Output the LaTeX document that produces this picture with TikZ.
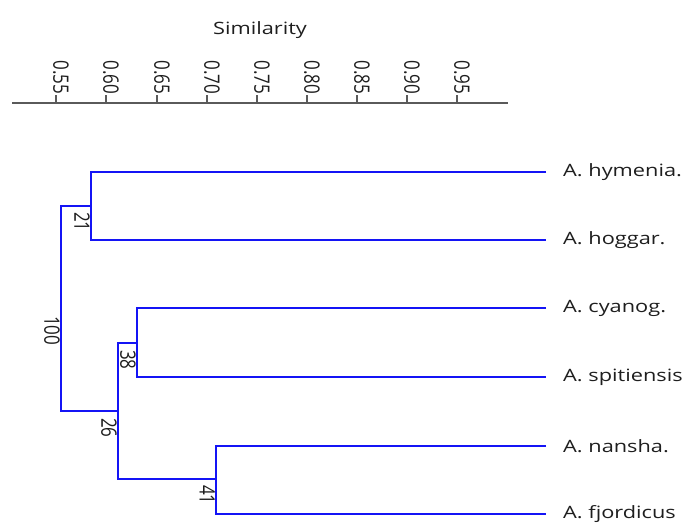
\documentclass[tikz,border=0pt]{standalone}
\usepackage{fontspec}
\setmainfont{Open Sans}
\newcommand{\hst}[1]{\scalebox{1.28}[1]{#1}}
\newcommand{\vst}[1]{\scalebox{1}[1.25]{#1}}
\begin{document}
\begin{tikzpicture}[x=1pt,y=-1pt,
  br/.style={draw={rgb,255:red,20;green,20;blue,245}, line width=1.6pt},
  ax/.style={draw={rgb,255:red,90;green,90;blue,90}, line width=2pt},
  txt/.style={text={rgb,255:red,30;green,30;blue,30}, font=\fontsize{17}{20}\selectfont, inner sep=0pt},
  rlab/.style={txt, rotate=-90, anchor=north west},
  tlab/.style={txt, rotate=-90, anchor=mid east}]
\useasboundingbox (0,0) rectangle (687,528);
% axis
\node[txt] (title) at (260,30) {\hst{Similarity}};
\coordinate (a0) at (12,103);
\coordinate (a1) at (508,103);
\draw[ax] (a0) -- (a1);
\foreach \v/\x in {0.55/56,0.60/106,0.65/157,0.70/207,0.75/257,0.80/307,0.85/357,0.90/407,0.95/457}{
  \coordinate (t\x) at (\x,103);
  \draw[ax] (t\x) -- ++(0,-8) node[tlab] {\vst{\v}};
}
% leaves
\coordinate (L1) at (546,172);
\coordinate (L2) at (546,240);
\coordinate (L3) at (546,308);
\coordinate (L4) at (546,377);
\coordinate (L5) at (546,446);
\coordinate (L6) at (546,514);
\node[txt, anchor=west] (n1) at (563,172) {\hst{A. hymenia.}};
\node[txt, anchor=west] (n2) at (563,240) {\hst{A. hoggar.}};
\node[txt, anchor=west] (n3) at (563,308) {\hst{A. cyanog.}};
\node[txt, anchor=west] (n4) at (563,377) {\hst{A. spitiensis}};
\node[txt, anchor=west] (n5) at (563,446) {\hst{A. nansha.}};
\node[txt, anchor=west] (n6) at (563,514) {\hst{A. fjordicus}};
% internal
\coordinate (c21) at (91,206);
\coordinate (c38) at (137,343);
\coordinate (c41) at (216,479);
\coordinate (c26) at (118,411);
\coordinate (c100) at (61,308);
\draw[br] (L1) -| (91,240) -- (L2);
\draw[br] (L3) -| (137,377) -- (L4);
\draw[br] (L5) -| (216,514) -- (L6);
\draw[br] (c38) -| (118,479) -- (c41);
\draw[br] (c21) -| (61,411) -- (c26);
% labels
\node[rlab] (b21) at (90,212) {\vst{21}};
\node[rlab] (b100) at (60,316) {\vst{100}};
\node[rlab] (b38) at (136,350) {\vst{38}};
\node[rlab] (b26) at (117,418) {\vst{26}};
\node[rlab] (b41) at (215,485) {\vst{41}};
\end{tikzpicture}
\end{document}
